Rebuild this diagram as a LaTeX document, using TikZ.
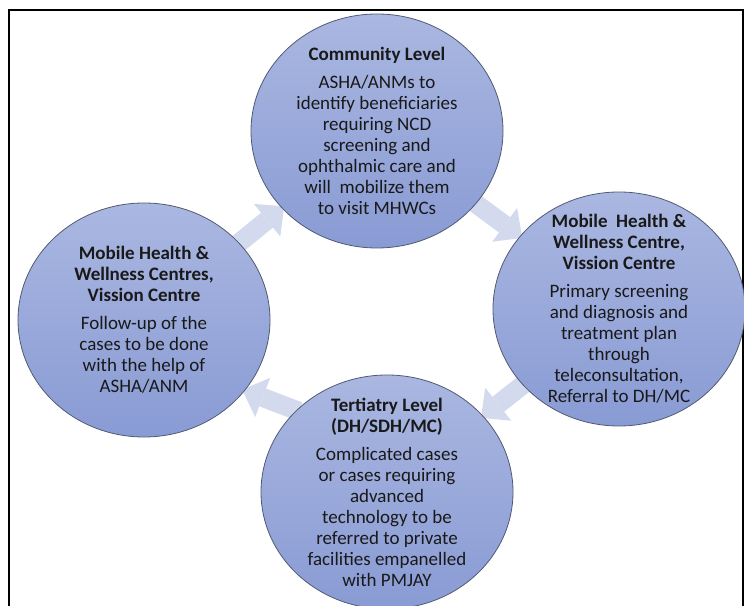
\documentclass[tikz,border=0pt]{standalone}
\usepackage{fontspec}
\setmainfont{Carlito}
\usetikzlibrary{arrows.meta,shapes.geometric,backgrounds}

\definecolor{bubbletop}{RGB}{170,183,225}
\definecolor{bubblebottom}{RGB}{137,155,212}
\definecolor{bubbleedge}{RGB}{80,90,115}
\definecolor{arrowfill}{RGB}{212,218,238}
\definecolor{textdark}{RGB}{25,25,25}

\begin{document}
\begin{tikzpicture}[x=1pt,y=1pt,
  bubble/.style={ellipse, draw=bubbleedge, line width=0.8pt, top color=bubbletop, bottom color=bubblebottom,
    minimum width=252pt, minimum height=234pt, inner sep=-40pt, align=center, text=textdark,
    font=\fontsize{19}{21}\selectfont},
  flowarrow/.style={draw=arrowfill, line width=19pt, -{Triangle[length=22pt,width=42pt,line width=0pt]},
    shorten <=-3pt, shorten >=-3pt}]

% page and frame
\useasboundingbox (0,0) rectangle (744,605);
\draw[line width=1.6pt] (9,-10) rectangle (743,595);

% the four levels
\node[bubble] (comm) at (377,474) {\textbf{Community Level}\\[7pt]
  ASHA/ANMs to\\ identify beneficiaries\\ requiring NCD\\ screening and\\
  ophthalmic care and\\ will\ \ mobilize them\\ to visit MHWCs};
\node[bubble] (mhwc) at (619,296) {\textbf{Mobile\ \ Health \&}\\ \textbf{Wellness Centre,}\\ \textbf{Vission Centre}\\[7pt]
  Primary screening\\ and diagnosis and\\ treatment plan\\ through\\ teleconsultation,\\ Referral to DH/MC};
\node[bubble] (tert) at (387,113) {\textbf{Tertiatry Level}\\ \textbf{(DH/SDH/MC)}\\[7pt]
  Complicated cases\\ or cases requiring\\ advanced\\ technology to be\\ referred to private\\
  facilities empanelled\\ with PMJAY};
\node[bubble] (follow) at (144,285) {\textbf{Mobile Health \&}\\ \textbf{Wellness Centres,}\\ \textbf{Vission Centre}\\[7pt]
  Follow-up of the\\ cases to be done\\ with the help of\\ ASHA/ANM};

% arrows between levels
\begin{scope}[on background layer]
\draw[flowarrow] (follow) -- (comm);
\draw[flowarrow] (comm) -- (mhwc);
\draw[flowarrow] (mhwc) -- (tert);
\draw[flowarrow] (tert.138) -- (follow.-35);
\end{scope}

\end{tikzpicture}
\end{document}
